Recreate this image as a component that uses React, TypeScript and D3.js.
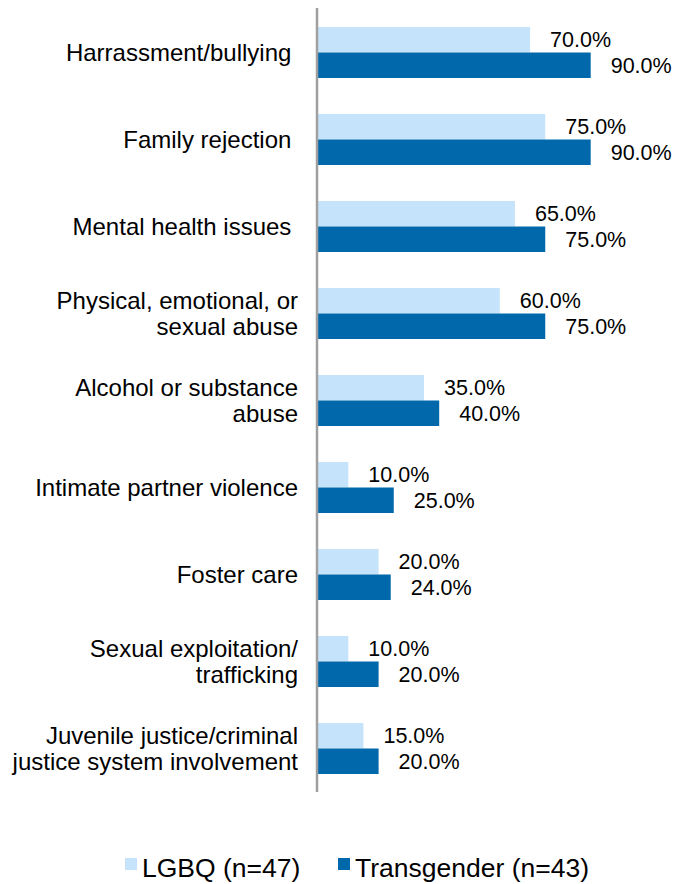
import React from "react";
import * as d3 from "d3";

const categories: string[][] = [
  ["Harrassment/bullying "],
  ["Family rejection "],
  ["Mental health issues "],
  ["Physical, emotional, or", "sexual abuse"],
  ["Alcohol or substance", "abuse"],
  ["Intimate partner violence"],
  ["Foster care"],
  ["Sexual exploitation/", "trafficking"],
  ["Juvenile justice/criminal", "justice system involvement"],
];
const lgbq: number[] = [70, 75, 65, 60, 35, 10, 20, 10, 15];
const trans: number[] = [90, 90, 75, 75, 40, 25, 24, 20, 20];
const seriesNames = ["LGBQ (n=47)", "Transgender (n=43)"];
const colors = ["#c5e4fb", "#0068ab"];

const W = 686;
const H = 884;
const FONT = "'Liberation Sans', Arial, Helvetica, sans-serif";

export default function App() {
  const x = d3.scaleLinear().domain([0, 100]).range([318, 621]);
  const y = d3
    .scaleBand<number>()
    .domain(d3.range(categories.length))
    .range([9, 792]);
  const barH = 25.5;
  const series = [lgbq, trans];

  return (
    <svg
      width={W}
      height={H}
      style={{ position: "absolute", left: 0, top: 0, background: "#fff" }}
      fontFamily={FONT}
    >
      {categories.map((lines, i) => {
        const cy = (y(i) as number) + y.bandwidth() / 2;
        const lh = 26;
        const startY = cy - ((lines.length - 1) * lh) / 2 + 8.5;
        return (
          <text
            key={"c" + i}
            x={298}
            textAnchor="end"
            fontSize={24}
            fill="#000"
            style={{ whiteSpace: "pre" }}
          >
            {lines.map((l, j) => (
              <tspan key={j} x={298} y={startY + j * lh}>
                {l}
              </tspan>
            ))}
          </text>
        );
      })}
      {series.map((vals, s) =>
        vals.map((v, i) => {
          const cy = (y(i) as number) + y.bandwidth() / 2;
          const top = cy - barH + s * barH;
          return (
            <g key={"b" + s + "-" + i}>
              <rect
                x={x(0)}
                y={top}
                width={x(v) - x(0)}
                height={barH}
                fill={colors[s]}
              />
              <text
                x={x(v) + 20}
                y={top + barH / 2 + 7.5}
                fontSize={21.5}
                fill="#000"
              >
                {v.toFixed(1) + "%"}
              </text>
            </g>
          );
        })
      )}
      <line x1={317} x2={317} y1={8} y2={792} stroke="#a0a0a0" strokeWidth={2.5} />
      <g>
        <rect x={125} y={858} width={12} height={12} fill={colors[0]} />
        <text x={142} y={877} fontSize={26.5} fill="#000">
          {seriesNames[0]}
        </text>
        <rect x={338} y={858} width={12} height={12} fill={colors[1]} />
        <text x={355} y={877} fontSize={26.5} fill="#000">
          {seriesNames[1]}
        </text>
      </g>
    </svg>
  );
}
